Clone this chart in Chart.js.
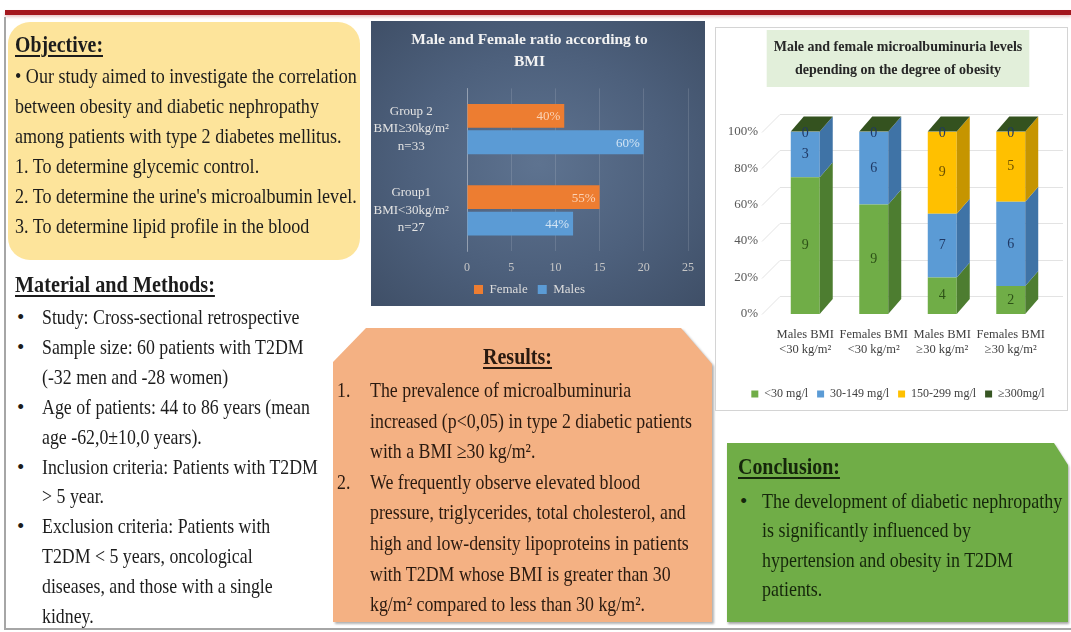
<!DOCTYPE html>
<html lang="en">
<head>
<meta charset="utf-8">
<title>Obesity and diabetic nephropathy</title>
<script src="https://cdn.jsdelivr.net/npm/chart.js@4.4.1/dist/chart.umd.min.js"></script>
<style>
  html, body { margin: 0; padding: 0; background: #fff; }
  body { position: relative; width: 1071px; height: 632px; overflow: hidden;
         font-family: "Liberation Serif", "Times New Roman", serif; color: #1c1c1c; }
  .box, .txt { position: absolute; }
  .txt { white-space: nowrap; font-size: 21px; line-height: 30px; transform-origin: 0 0; }
  .head { font-size: 23px; font-weight: bold; text-decoration: underline;
          text-decoration-thickness: 2px; text-underline-offset: 3px; }
  #topbar { left: 5px; top: 10px; width: 1066px; height: 5px; background: #a3161d;
            box-shadow: 0 2px 3px rgba(163, 22, 29, .25); }
  #frame { left: 4px; top: 17px; width: 1065px; height: 611px;
           border-left: 2px solid #a6a6a6; border-bottom: 2px solid #a6a6a6; }
  #objective { left: 8px; top: 22px; width: 352px; height: 238px; border-radius: 22px; background: #fde49b; }
  #ratioPanel { left: 371px; top: 21px; width: 334px; height: 285px;
                background: radial-gradient(ellipse at 50% 50%, #5e7390 0%, #4d607c 55%, #3f4f67 100%); }
  #resultsWrap { left: 333px; top: 328px; width: 379px; height: 294px;
                 filter: drop-shadow(2px 2px 1px rgba(0, 0, 0, .3)); }
  #results { width: 100%; height: 100%; background: #f4b183;
             clip-path: polygon(33px 0, 348px 0, 100% 36px, 100% 100%, 0 100%, 0 34px); }
  #levelPanel { left: 715px; top: 27px; width: 351px; height: 382px; border: 1px solid #d4d4d4; background: #fff; }
  #conclusionWrap { left: 727px; top: 443px; width: 341px; height: 179px;
                    filter: drop-shadow(1px 2px 1px rgba(0, 0, 0, .35)); }
  #conclusion { width: 100%; height: 100%; background: #70ad47;
                clip-path: polygon(0 0, 327px 0, 100% 22px, 100% 100%, 0 100%); }
  canvas { display: block; }
</style>
</head>
<body>
<div class="box" id="topbar"></div>
<div class="box" id="frame"></div>
<div class="box" id="objective"></div>
<div class="box" id="ratioPanel"><canvas id="ratioChart" width="334" height="285"></canvas></div>
<div class="box" id="resultsWrap"><div id="results"></div></div>
<div class="box" id="levelPanel"><canvas id="levelChart" width="351" height="382"></canvas></div>
<div class="box" id="conclusionWrap"><div id="conclusion"></div></div>

<div class="txt head" id="objHead" style="left:15px; top:30px;">Objective:</div>
<div class="txt" id="objBody" style="left:15px; top:61px;">• Our study aimed to investigate the correlation<br>between obesity and diabetic nephropathy<br>among patients with type 2 diabetes mellitus.<br>1. To determine glycemic control.<br>2. To determine the urine's microalbumin level.<br>3. To determine lipid profile in the blood</div>

<div class="txt head" id="matHead" style="left:15px; top:270px;">Material and Methods:</div>
<div class="txt" style="left:17px; top:303px; line-height:29.9px;">•<br>•<br><br>•<br><br>•<br><br>•</div>
<div class="txt" id="matBody" style="left:42px; top:303px; line-height:29.9px;">Study: Cross-sectional retrospective<br>Sample size: 60 patients with T2DM<br>(-32 men and -28 women)<br>Age of patients: 44 to 86 years (mean<br>age -62,0±10,0 years).<br>Inclusion criteria: Patients with T2DM<br>&gt; 5 year.<br>Exclusion criteria: Patients with<br>T2DM &lt; 5 years, oncological<br>diseases, and those with a single<br>kidney.</div>

<div class="txt head" id="resHead" style="left:483px; top:342px; color:#2a1a10;">Results:</div>
<div class="txt" id="resNums" style="left:337px; top:375px; line-height:30.6px; color:#2a1a10;">1.<br><br><br>2.</div>
<div class="txt" id="resBody" style="left:370px; top:375px; line-height:30.6px; color:#2a1a10;">The prevalence of microalbuminuria<br>increased (p&lt;0,05) in type 2 diabetic patients<br>with a BMI ≥30 kg/m².<br>We frequently observe elevated blood<br>pressure, triglycerides, total cholesterol, and<br>high and low-density lipoproteins in patients<br>with T2DM whose BMI is greater than 30<br>kg/m² compared to less than 30 kg/m².</div>

<div class="txt head" id="conHead" style="left:738px; top:452px; color:#15260b;">Conclusion:</div>
<div class="txt" style="left:740px; top:487px; line-height:29.3px; color:#15260b;">•</div>
<div class="txt" id="conBody" style="left:762px; top:487px; line-height:29.3px; color:#15260b;">The development of diabetic nephropathy<br>is significantly influenced by<br>hypertension and obesity in T2DM<br>patients.</div>

<script>
// ratio chart
const ratioGroups = [['Group 2', 'BMI≥30kg/m²', 'n=33'], ['Group1', 'BMI<30kg/m²', 'n=27']];
const femaleCounts = [11, 15];
const maleCounts = [20, 12];
const femaleShares = ['40%', '55%'];
const maleShares = ['60%', '44%'];
const ratioTicks = [0, 5, 10, 15, 20, 25];

// microalbuminuria chart
const obesityGroups = [['Males BMI', '<30 kg/m²'], ['Females BMI', '<30 kg/m²'],
                       ['Males BMI', '≥30 kg/m²'], ['Females BMI', '≥30 kg/m²']];
const under30 = [9, 9, 4, 2];
const from30to149 = [3, 6, 7, 6];
const from150to299 = [0, 0, 9, 5];
const over300 = [0, 0, 0, 0];
const levelNames = ['<30 mg/l', '30-149 mg/l', '150-299 mg/l', '≥300mg/l'];
const percentTicks = [0, 20, 40, 60, 80, 100];

// squeeze the poster text to the widths it has in the original
const fitWidths = [['objHead', 88], ['objBody', 342], ['matHead', 200], ['matBody', 276],
                   ['resHead', 69], ['resBody', 322], ['conHead', 102], ['conBody', 300]];
fitWidths.forEach(([id, w]) => {
    const el = document.getElementById(id);
    const k = w / el.getBoundingClientRect().width;
    el.style.transform = 'scaleX(' + k.toFixed(3) + ')';
    if (id === 'resBody') document.getElementById('resNums').style.transform = 'scaleX(' + k.toFixed(3) + ')';
});

Chart.defaults.font.family = '"Liberation Serif", "Times New Roman", serif';
Chart.defaults.animation = false;

const shareColors = ['#fbd3b6', '#d2e4f4'];
const shareLabels = {
    id: 'shareLabels',
    afterDatasetsDraw(chart) {
        const ctx = chart.ctx;
        ctx.save();
        ctx.font = '13px "Liberation Serif"';
        ctx.textAlign = 'right';
        ctx.textBaseline = 'middle';
        chart.data.datasets.forEach((ds, i) => {
            ctx.fillStyle = shareColors[i];
            chart.getDatasetMeta(i).data.forEach((bar, j) => {
                ctx.fillText(ds.shares[j], bar.x - 4, bar.y + 1);
            });
        });
        ctx.restore();
    }
};

new Chart(document.getElementById('ratioChart'), {
    type: 'bar',
    data: {
        labels: ratioGroups,
        datasets: [
            { label: 'Female', data: femaleCounts, shares: femaleShares, backgroundColor: '#ed7d31',
              borderWidth: 0, categoryPercentage: 0.65, barPercentage: 0.9 },
            { label: 'Males', data: maleCounts, shares: maleShares, backgroundColor: '#5b9bd5',
              borderWidth: 0, categoryPercentage: 0.65, barPercentage: 0.9 },
        ],
    },
    options: {
        indexAxis: 'y',
        responsive: false,
        layout: { padding: { left: 0, right: 17, top: 0, bottom: 0 } },
        plugins: {
            title: {
                display: true,
                text: ['Male and Female ratio according to', 'BMI'],
                color: '#f2f2f2',
                font: { size: 15.5, weight: 'bold', lineHeight: 1.4 },
                padding: { top: 8, bottom: 16 },
            },
            legend: {
                position: 'bottom',
                labels: { boxWidth: 9, boxHeight: 9, padding: 10, color: '#dcdcdc', font: { size: 13 } },
            },
            tooltip: { enabled: false },
        },
        scales: {
            x: {
                min: 0,
                max: 25,
                afterBuildTicks: s => { s.ticks = ratioTicks.map(v => ({ value: v })); },
                ticks: { color: '#c6c6c6', font: { size: 12 }, padding: 10 },
                grid: { color: 'rgba(255,255,255,0.13)', drawTicks: false },
                border: { display: false },
                afterFit: s => { s.height = 22; },
            },
            y: {
                ticks: { color: '#e3e3e3', font: { size: 13, lineHeight: 1.35 }, padding: 18, crossAlign: 'center' },
                grid: { color: 'rgba(0,0,0,0)', drawTicks: false },
                border: { color: 'rgba(255,255,255,0.3)' },
                afterFit: s => { s.width = 96; },
            },
        },
    },
    plugins: [shareLabels],
});

const totals = under30.map((v, i) => v + from30to149[i] + from150to299[i] + over300[i]);
const asPercent = counts => counts.map((v, i) => v / totals[i] * 100);
const levelCounts = [under30, from30to149, from150to299, over300];
const levelColors = ['#70ad47', '#5b9bd5', '#ffc000', '#375623'];
const sideColors = ['#4d7d30', '#3f73a6', '#c69500', '#2a4419'];
const valueColors = ['#2d5217', '#1f3864', '#6b5000', '#1f3864'];
const topColor = '#34521f';
const depthX = 13;
const depthY = 15;

const titleBackdrop = {
    id: 'titleBackdrop',
    beforeDraw(chart) {
        const t = chart.titleBlock;
        if (!t) return;
        const ctx = chart.ctx;
        ctx.save();
        ctx.font = 'bold 14px "Liberation Serif"';
        const w = Math.max(...t.options.text.map(s => ctx.measureText(s).width)) + 14;
        const cx = (t.left + t.right) / 2;
        ctx.fillStyle = '#e2efda';
        ctx.fillRect(cx - w / 2, t.top + 2, w, 57);
        ctx.restore();
    }
};

const stack3d = {
    id: 'stack3d',
    beforeDatasetsDraw(chart) {
        const { ctx, chartArea: a, scales: { y } } = chart;
        ctx.save();
        ctx.strokeStyle = '#e3e3e3';
        ctx.lineWidth = 1;
        y.ticks.forEach(t => {
            const py = Math.round(y.getPixelForValue(t.value)) + 0.5;
            ctx.beginPath();
            ctx.moveTo(a.left - 9, py);
            ctx.lineTo(a.left + 9, py - 18);
            ctx.lineTo(a.right + 18, py - 18);
            ctx.stroke();
        });
        ctx.restore();
    },
    afterDatasetsDraw(chart) {
        const ctx = chart.ctx;
        const sets = chart.data.datasets;
        const last = sets.length - 1;
        ctx.save();
        sets.forEach((ds, i) => {
            chart.getDatasetMeta(i).data.forEach(bar => {
                const { x, y, base, width } = bar.getProps(['x', 'y', 'base', 'width'], true);
                const l = x - width / 2, r = x + width / 2;
                if (base - y > 0.5) {
                    ctx.fillStyle = sideColors[i];
                    ctx.beginPath();
                    ctx.moveTo(r, y);
                    ctx.lineTo(r + depthX, y - depthY);
                    ctx.lineTo(r + depthX, base - depthY);
                    ctx.lineTo(r, base);
                    ctx.closePath();
                    ctx.fill();
                }
                if (i === last) {
                    ctx.fillStyle = topColor;
                    ctx.beginPath();
                    ctx.moveTo(l, y);
                    ctx.lineTo(l + depthX, y - depthY);
                    ctx.lineTo(r + depthX, y - depthY);
                    ctx.lineTo(r, y);
                    ctx.closePath();
                    ctx.fill();
                }
            });
        });
        ctx.font = '14px "Liberation Serif"';
        ctx.textAlign = 'center';
        ctx.textBaseline = 'middle';
        sets.forEach((ds, i) => {
            chart.getDatasetMeta(i).data.forEach((bar, j) => {
                const n = ds.counts[j];
                if (n === 0 && i !== last) return;
                const { x, y, base } = bar.getProps(['x', 'y', 'base'], true);
                ctx.fillStyle = valueColors[i];
                ctx.fillText(String(n), x, n === 0 ? y + 2 : (y + base) / 2);
            });
        });
        ctx.restore();
    }
};

new Chart(document.getElementById('levelChart'), {
    type: 'bar',
    data: {
        labels: obesityGroups,
        datasets: levelCounts.map((counts, i) => ({
            label: levelNames[i],
            data: asPercent(counts),
            counts: counts,
            backgroundColor: levelColors[i],
            borderWidth: 0,
            barPercentage: 0.423,
            categoryPercentage: 1,
        })),
    },
    options: {
        responsive: false,
        layout: { padding: { left: 13, right: 0, top: 0, bottom: 0 } },
        plugins: {
            title: {
                display: true,
                text: ['Male and female microalbuminuria levels', 'depending on the degree of obesity'],
                color: '#262626',
                font: { size: 14, weight: 'bold', lineHeight: 1.7 },
                padding: { top: 7, bottom: 49 },
            },
            legend: {
                position: 'bottom',
                labels: { boxWidth: 7, boxHeight: 7, padding: 9, color: '#404040', font: { size: 12 } },
            },
            tooltip: { enabled: false },
        },
        scales: {
            x: {
                stacked: true,
                grid: { display: false },
                border: { display: false },
                ticks: { color: '#404040', font: { size: 12.5, lineHeight: 1.15 }, padding: 6,
                         maxRotation: 0, autoSkip: false },
                afterFit: s => { s.height = 65; },
            },
            y: {
                stacked: true,
                min: 0,
                max: 100,
                afterBuildTicks: s => { s.ticks = percentTicks.map(v => ({ value: v })); },
                ticks: { callback: v => v + '%', color: '#595959', font: { size: 13 }, padding: 13 },
                grid: { display: false, drawTicks: false },
                border: { display: false },
                afterFit: s => { s.width = 42; },
            },
            // empty strip that keeps room on the right for the bar depth
            depth: {
                position: 'right',
                ticks: { display: false },
                grid: { display: false, drawTicks: false },
                border: { display: false },
                afterFit: s => { s.width = 22; },
            },
        },
    },
    plugins: [titleBackdrop, stack3d],
});
</script>
</body>
</html>
